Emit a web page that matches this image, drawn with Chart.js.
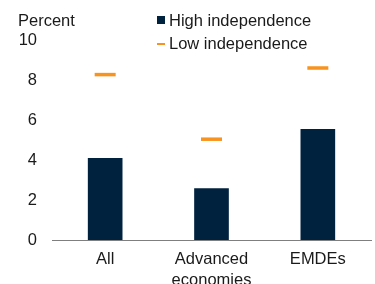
<!DOCTYPE html>
<html lang="en">
<head>
    <meta charset="UTF-8">
    <title>Central bank independence</title>
    <script src="https://cdn.jsdelivr.net/npm/chart.js"></script>
    <style>
        body {
            margin: 0;
            overflow: hidden;
            background: white;
            font-family: "Liberation Sans", Arial, sans-serif;
            color: #1a1a1a;
        }
        .wrap {
            position: relative;
            width: 385px;
            height: 284px;
        }
        .note {
            position: absolute;
            font-size: 16.5px;
            line-height: 17px;
            white-space: nowrap;
        }
        .swatch {
            display: inline-block;
            vertical-align: middle;
            margin-right: 4px;
        }
    </style>
</head>
<body>
    <div class="wrap">
        <canvas id="chart" width="385" height="284"></canvas>
        <div class="note" style="left:18px; top:12px;">Percent</div>
        <div class="note" style="left:157px; top:12px;"><span class="swatch" style="width:8px;height:8px;background:#00223f;margin-top:-3px;"></span>High independence</div>
        <div class="note" style="left:157px; top:35px;"><span class="swatch" style="width:8px;height:2px;background:#f7931e;margin-top:-2px;"></span>Low independence</div>
    </div>
    <script>
        // values
        const categories = ['All', ['Advanced', 'economies'], 'EMDEs'];
        const highIndependence = [4.08, 2.57, 5.53];
        const lowIndependence = [8.27, 5.04, 8.6];
        const yTicks = [0, 2, 4, 6, 8, 10];

        const navy = '#00223f';
        const orange = '#f7931e';

        new Chart(document.getElementById('chart'), {
            data: {
                labels: categories,
                datasets: [
                    {
                        type: 'line',
                        label: 'Low independence',
                        data: lowIndependence,
                        showLine: false,
                        pointStyle: 'line',
                        pointRadius: 10.5,
                        pointHoverRadius: 10.5,
                        borderColor: orange,
                        pointBorderWidth: 3.5,
                        borderWidth: 3.5
                    },
                    {
                        type: 'bar',
                        label: 'High independence',
                        data: highIndependence,
                        backgroundColor: navy,
                        barThickness: 34
                    }
                ]
            },
            options: {
                responsive: false,
                animation: false,
                layout: { padding: { top: 40, left: 0, right: 3, bottom: 0 } },
                plugins: {
                    legend: { display: false },
                    tooltip: { enabled: false }
                },
                scales: {
                    x: {
                        grid: { display: false, drawTicks: false },
                        border: { display: true, color: '#7f7f7f', width: 1 },
                        ticks: {
                            padding: 9,
                            color: '#1a1a1a',
                            font: { family: '"Liberation Sans", Arial', size: 16.5, lineHeight: '21px' },
                            maxRotation: 0
                        },
                        afterFit: (s) => { s.height = 44; }
                    },
                    y: {
                        min: 0,
                        max: 10,
                        afterBuildTicks: (s) => { s.ticks = yTicks.map(v => ({ value: v })); },
                        grid: { display: false, drawTicks: false },
                        border: { display: false },
                        ticks: {
                            padding: 15,
                            color: '#1a1a1a',
                            font: { family: '"Liberation Sans", Arial', size: 16.5 }
                        },
                        afterFit: (s) => { s.width = 52; }
                    }
                }
            }
        });
    </script>
</body>
</html>
